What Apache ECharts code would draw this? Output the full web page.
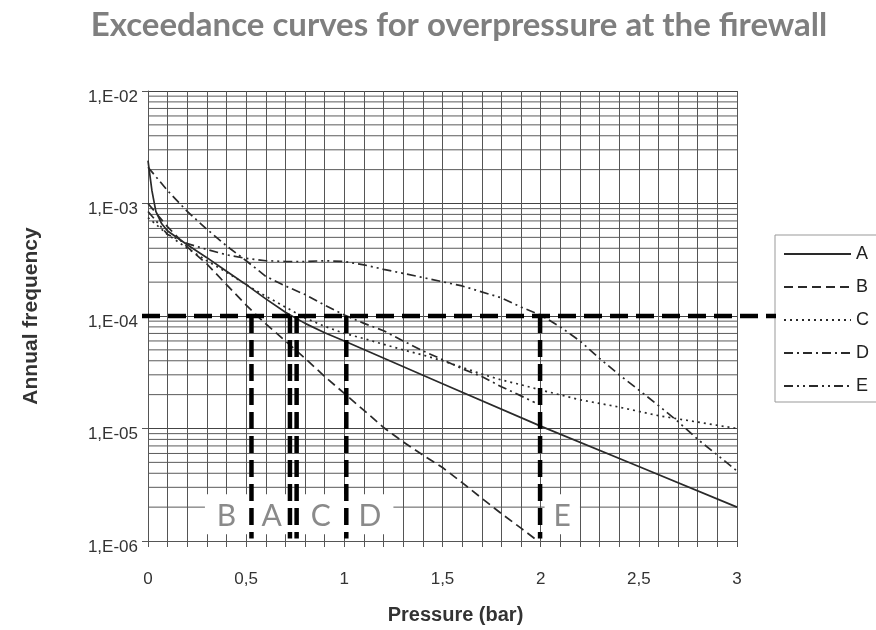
<!DOCTYPE html>
<html><head><meta charset="utf-8">
<script src="https://cdn.jsdelivr.net/npm/echarts@6/dist/echarts.min.js"></script>
<style>html,body{margin:0;padding:0;background:#fff}#c{width:876px;height:630px}</style>
</head><body><div id="c"></div>
<script>
// ---- data ----
const seriesNames = ['A','B','C','D','E'];
const xA = [0,0.02,0.04,0.07,0.1,0.2,0.3,0.4,0.5,0.6,0.7,0.8,0.9,1.0,1.5,2.0,2.5,3.0];
const yA = [2.4e-3,1.3e-3,8.5e-4,6.6e-4,5.7e-4,4.3e-4,3.3e-4,2.5e-4,1.9e-4,1.42e-4,1.08e-4,8.6e-5,7.1e-5,6e-5,2.5e-5,1.05e-5,4.6e-6,2e-6];
const xB = [0,0.1,0.2,0.3,0.4,0.5,0.6,0.7,0.8,0.9,1.0,1.1,1.2,1.3,1.4,1.5,1.6,1.7,1.8,1.9,1.97];
const yB = [1e-3,6.2e-4,4.1e-4,2.9e-4,1.9e-4,1.25e-4,8.5e-5,6e-5,4.2e-5,2.9e-5,2.05e-5,1.45e-5,1.02e-5,7.6e-6,5.8e-6,4.5e-6,3.3e-6,2.4e-6,1.75e-6,1.3e-6,1.05e-6];
const xC = [0,0.1,0.2,0.3,0.4,0.5,0.6,0.7,0.8,0.9,1.0,1.1,1.2,1.3,1.4,1.5,1.6,1.7,1.8,1.9,2.0,2.2,2.4,2.6,2.8,3.0];
const yC = [7.5e-4,5.3e-4,4e-4,3.1e-4,2.45e-4,1.9e-4,1.5e-4,1.2e-4,9.6e-5,8.1e-5,7e-5,6.3e-5,5.6e-5,5e-5,4.5e-5,4e-5,3.5e-5,3.05e-5,2.7e-5,2.45e-5,2.2e-5,1.8e-5,1.55e-5,1.3e-5,1.14e-5,1e-5];
const xD = [0,0.1,0.2,0.3,0.4,0.5,0.6,0.7,0.8,0.9,1.0,1.1,1.2,1.3,1.4,1.5,1.6,1.7,1.8,1.9,1.97];
const yD = [2.1e-3,1.3e-3,8.5e-4,5.9e-4,4.2e-4,3.1e-4,2.25e-4,1.85e-4,1.55e-4,1.25e-4,1.02e-4,8.6e-5,7.4e-5,6e-5,4.9e-5,4.1e-5,3.4e-5,2.9e-5,2.35e-5,1.95e-5,1.7e-5];
const xE = [0,0.1,0.2,0.3,0.4,0.5,0.6,0.7,0.8,0.9,1.0,1.1,1.2,1.4,1.6,1.8,1.9,2.0,2.1,2.2,2.3,2.4,2.5,2.6,2.7,2.8,2.9,3.0];
const yE = [8.5e-4,5.3e-4,4.4e-4,3.9e-4,3.5e-4,3.25e-4,3.1e-4,3.05e-4,3.05e-4,3.1e-4,3.05e-4,2.85e-4,2.6e-4,2.2e-4,1.85e-4,1.45e-4,1.2e-4,1.02e-4,8e-5,6e-5,4.2e-5,3e-5,2.2e-5,1.6e-5,1.15e-5,8e-6,5.8e-6,4.2e-6];
// reference threshold and read-off pressures
const threshold = 1e-4;
const crossX = [0.527, 0.723, 0.757, 1.01, 1.997];
const markLabels = ['B','A','C','D','E'];
const markLabelX = [0.40, 0.63, 0.88, 1.13, 2.11];
const yTicks = [1e-6,1e-5,1e-4,1e-3,1e-2];
const minorMult = [2,3,4,5,6,7,8,9];

const seriesX = [xA,xB,xC,xD,xE];
const seriesY = [yA,yB,yC,yD,yE];
const dashes = ['solid',[9,5],[2,4],[9,4,2,4],[9,4,2,4,2,4]];

const minorVals = [];
for (let d = 0; d < yTicks.length-1; d++) for (const m of minorMult) minorVals.push(m*yTicks[d]);

const chart = echarts.init(document.getElementById('c'), null, {renderer:'canvas'});
const series = seriesNames.map((n,i)=>({
  name:n, type:'line', symbol:'none', showSymbol:false, smooth:false, z:5,
  data: seriesX[i].map((x,k)=>[x, seriesY[i][k]]),
  lineStyle:{color:'#2a2a2a', width:1.7, type:dashes[i]},
  itemStyle:{color:'#2a2a2a'}
}));

chart.setOption({
  animation:false,
  title:{text:'Exceedance curves for overpressure at the firewall', left:454, top:4, textAlign:'center',
    textStyle:{fontFamily:'Lato', fontWeight:'bold', fontSize:33, color:'#7f7f7f'}},
  grid:{left:148, right:139, top:91, bottom:85},
  legend:{data:seriesNames, orient:'vertical', left:775, top:235,
    padding:[9,24,6,8], itemWidth:67, itemHeight:10, itemGap:13,
    borderColor:'#999', borderWidth:1, backgroundColor:'#fff',
    itemStyle:{opacity:0},
    textStyle:{fontFamily:'Arial', fontSize:18, color:'#222', lineHeight:20}},
  xAxis:{type:'value', min:0, max:3, interval:0.1,
    name:'Pressure (bar)', nameLocation:'middle', nameGap:64,
    nameTextStyle:{fontFamily:'Arial', fontWeight:'bold', fontSize:20, color:'#333', padding:[0,0,0,26]},
    axisLine:{lineStyle:{color:'#555', width:1}},
    axisTick:{show:true, length:6, lineStyle:{color:'#555'}},
    axisLabel:{fontFamily:'Arial', fontSize:17, color:'#333', margin:30,
      formatter:v=>{ if (Math.abs(v*2-Math.round(v*2))>1e-6) return ''; const r=Math.round(v*2)/2; return String(r).replace('.',','); }},
    splitLine:{show:true, lineStyle:{color:'#555', width:1}}},
  yAxis:{type:'log', logBase:10, min:1e-6, max:1e-2,
    name:'Annual frequency', nameLocation:'middle', nameGap:106,
    nameTextStyle:{fontFamily:'Arial', fontWeight:'bold', fontSize:21, color:'#333'},
    axisLine:{show:true, lineStyle:{color:'#555', width:1}},
    axisTick:{show:true, length:6, lineStyle:{color:'#555'}},
    axisLabel:{fontFamily:'Arial', fontSize:17, color:'#333', margin:10, verticalAlign:'top', lineHeight:12,
      formatter:v=>'1,E-0'+Math.round(-Math.log10(v))},
    splitLine:{show:true, lineStyle:{color:'#444', width:1.2}}},
  series:series
});

function px(x,y){ return chart.convertToPixel({gridIndex:0},[x,y]); }
const g = [];
// minor log grid lines
minorVals.forEach(v=>{
  const p1 = px(0, v), p2 = px(3, v);
  g.push({type:'line', z:1, silent:true, shape:{x1:p1[0], y1:p1[1], x2:p2[0], y2:p2[1]},
    style:{stroke:'#5a5a5a', lineWidth:1}});
});
// white boxes behind labels
const boxes = [[0.29,1.25],[2.02,2.2]];
const boxTop = 2.6e-6, boxBot = 1.15e-6;
boxes.forEach(b=>{
  const p1 = px(b[0], boxTop), p2 = px(b[1], boxBot);
  g.push({type:'rect', z:10, shape:{x:p1[0], y:p1[1], width:p2[0]-p1[0], height:p2[1]-p1[1]}, style:{fill:'#fff'}});
});
// vertical dashed read-off lines
crossX.forEach(x=>{
  const p1 = px(x, threshold), p2 = px(x, 1.05e-6);
  g.push({type:'line', z:20, shape:{x1:p1[0], y1:p1[1], x2:p2[0], y2:p2[1]},
    style:{stroke:'#000', lineWidth:4.5, lineDash:[17,7]}});
});
// horizontal dashed threshold line
{
  const p1 = px(0, threshold);
  g.push({type:'line', z:20, shape:{x1:p1[0]-6, y1:p1[1], x2:776, y2:p1[1]},
    style:{stroke:'#000', lineWidth:4.5, lineDash:[18,8]}});
}
// labels
markLabels.forEach((t,i)=>{
  const p = px(markLabelX[i], 1.66e-6);
  g.push({type:'text', z:30, x:p[0], y:p[1], style:{text:t, fill:'#8a8a8a', font:'30px Lato', align:'center', verticalAlign:'middle'}});
});
chart.setOption({graphic:g});
</script></body></html>
